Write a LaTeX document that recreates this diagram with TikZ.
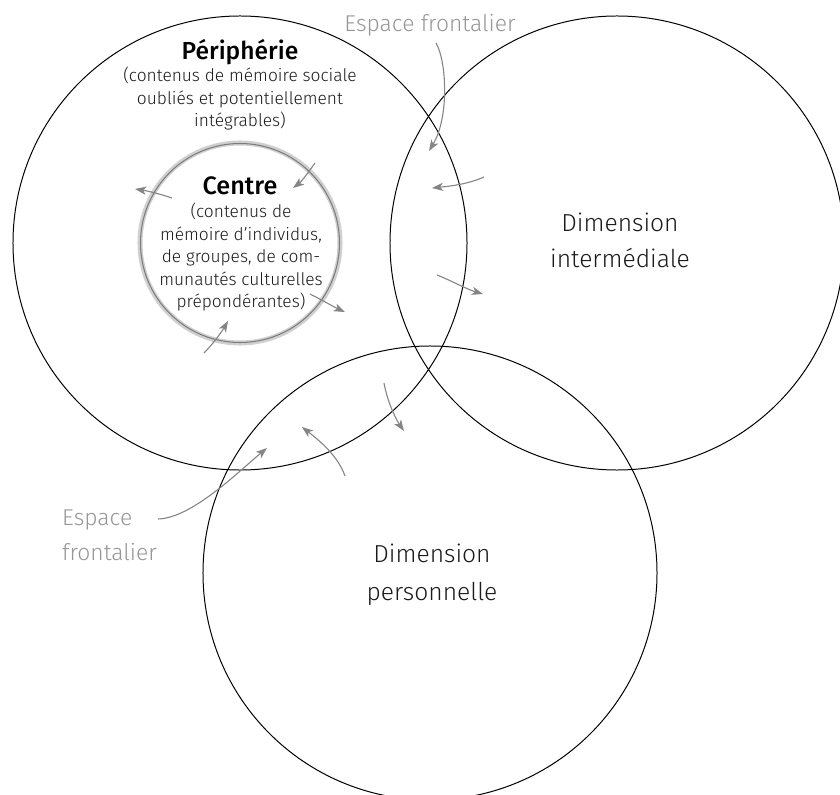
\documentclass[tikz,border=0pt]{standalone}
\usepackage{fontspec}
\IfFontExistsTF{Fira Sans Light}{\setmainfont{Fira Sans Light}}{\setmainfont{Fira Sans}}
\IfFontExistsTF{Fira Sans Medium}{\newfontfamily\hdfont{Fira Sans Medium}}{\newfontfamily\hdfont{Fira Sans}}
\usetikzlibrary{arrows.meta}
\definecolor{arrgray}{HTML}{858585}
\definecolor{txtgray}{HTML}{969696}
\definecolor{ringlight}{HTML}{D0D0D0}
\definecolor{ringdark}{HTML}{7C7C7C}
\definecolor{ink}{HTML}{1A1A1A}
\tikzset{
  circ/.style={draw=black, line width=0.85pt},
  arr/.style={draw=arrgray, line width=0.95pt, -{Stealth[length=9.5pt,width=7pt,inset=2.5pt]}},
  big/.style={font=\fontsize{21}{25}\selectfont, text=ink, inner sep=0pt, anchor=base},
  head/.style={font=\hdfont\fontsize{21}{25}\selectfont, text=black, inner sep=0pt, anchor=base},
  headc/.style={font=\hdfont\fontsize{21.5}{25}\selectfont, text=black, inner sep=0pt, anchor=base},
  small/.style={font=\fontsize{14.8}{18}\selectfont, text=ink, inner sep=0pt, anchor=base},
  gtxt/.style={font=\fontsize{19.5}{23}\selectfont, text=txtgray, inner sep=0pt, anchor=base},
}
\begin{document}
\begin{tikzpicture}[x=0.03cm, y=-0.03cm]
\useasboundingbox (0,0) rectangle (840,795);
% big circles
\coordinate (cL) at (240,243);
\coordinate (cR) at (617,243);
\coordinate (cB) at (430,573);
\draw[circ] (cL) circle[radius=6.81cm];
\draw[circ] (cR) circle[radius=6.81cm];
\draw[circ] (cB) circle[radius=6.81cm];
% centre ring
\draw[draw=ringlight, line width=4.3pt] (cL) circle[radius=3.0cm];
\draw[draw=ringdark, line width=0.9pt] (cL) circle[radius=2.985cm];

% texts
\node[head] (peri) at (240,60) {Périphérie};
\node[small] (p1) at (240,82) {(contenus de mémoire sociale};
\node[small] (p2) at (240,105) {oubliés et potentiellement};
\node[small] (p3) at (240,127) {intégrables)};

\node[headc] (cent) at (240,195) {Centre};
\node[small] (c1) at (241,218) {(contenus de};
\node[small] (c2) at (241,241) {mémoire d’individus,};
\node[small] (c3) at (241,263) {de groupes, de com-};
\node[small] (c4) at (241,286) {munautés culturelles};
\node[small] (c5) at (241,308) {prépondérantes)};

\node[big] (di1) at (620,232) {Dimension};
\node[big] (di2) at (620,268) {intermédiale};
\node[big] (dp1) at (432,562) {Dimension};
\node[big] (dp2) at (432,600) {personnelle};

\node[gtxt] (ef1) at (430,32) {Espace frontalier};
\node[gtxt, anchor=base west] (ef2) at (62,525) {Espace};
\node[gtxt, anchor=base west] (ef3) at (62,560) {frontalier};

% arrow end points
\coordinate (a1s) at (436,43);  \coordinate (a1e) at (429,151);
\coordinate (a2s) at (484,177); \coordinate (a2e) at (432,188);
\coordinate (a3s) at (437,275); \coordinate (a3e) at (483,294);
\coordinate (a4s) at (384,383); \coordinate (a4e) at (404,431);
\coordinate (a5s) at (345,476); \coordinate (a5e) at (302,427);
\coordinate (a6s) at (158,519); \coordinate (a6e) at (267,448);
\coordinate (b1s) at (315,163); \coordinate (b1e) at (293,188);
\coordinate (b2s) at (172,198); \coordinate (b2e) at (135,189);
\coordinate (b3s) at (310,294); \coordinate (b3e) at (345,312);
\coordinate (b4s) at (204,353); \coordinate (b4e) at (228,321);

\draw[arr] (a1s) .. controls (447,62) and (449,118) .. (a1e);
\draw[arr] (a2s) .. controls (468,184) and (452,186) .. (a2e);
\draw[arr] (a3s) .. controls (450,280) and (466,289) .. (a3e);
\draw[arr] (a4s) .. controls (387,400) and (395,418) .. (a4e);
\draw[arr] (a5s) .. controls (338,456) and (320,441) .. (a5e);
\draw[arr] (a6s) .. controls (192,518) and (238,472) .. (a6e);
\draw[arr] (b1s) .. controls (308,173) and (301,182) .. (b1e);
\draw[arr] (b2s) .. controls (160,194) and (148,191) .. (b2e);
\draw[arr] (b3s) .. controls (322,300) and (334,307) .. (b3e);
\draw[arr] (b4s) .. controls (212,345) and (221,333) .. (b4e);
\end{tikzpicture}
\end{document}
